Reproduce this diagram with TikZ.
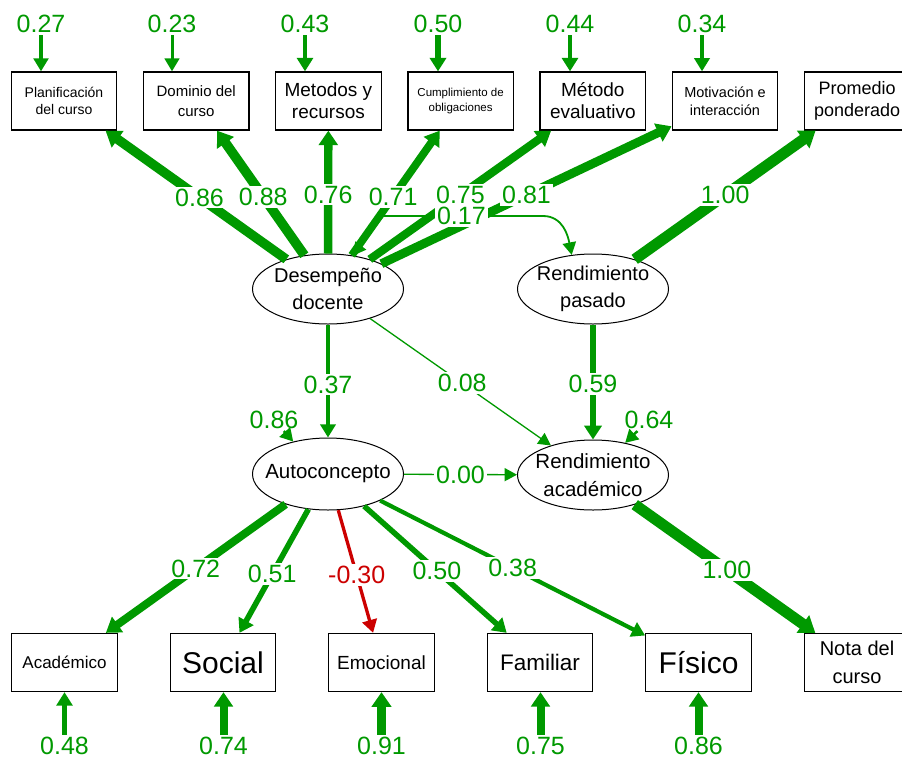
\documentclass[tikz,border=0pt]{standalone}
\usepackage{fontspec}
\setmainfont{Liberation Sans}
\usetikzlibrary{arrows.meta,positioning,shapes.geometric}
\definecolor{semgreen}{RGB}{0,153,0}
\definecolor{semred}{RGB}{204,0,0}
\tikzset{
    block/.style = {draw, rectangle, line width=1.3pt,
        minimum height=58pt,
        minimum width=105.5pt, align=center, inner sep=1pt},
    latent/.style = {draw, ellipse, line width=1pt,
        minimum height=70pt, minimum width=151pt, inner sep=0pt},
    arrow/.style = {draw=semgreen, line width=#1, ->},
    arrow/.default = 2pt,
    coef/.style = {fill=white, text=semgreen, inner sep=2pt,
        font=\fontsize{25}{25}\selectfont}
}

\begin{document}
\begin{tikzpicture}[x=1pt, y=-1pt, node distance=132.2pt,
        >={Triangle[length=12pt 0.3, width=12pt 0.8]}]
        \useasboundingbox (0,0) rectangle (902,758);
        \node [block, font=\fontsize{14}{17}\selectfont] (plan) at (64,101) {Planificación\\del curso};
        \node [block, right of=plan, font=\fontsize{15}{20}\selectfont] (dom) {Dominio del\\curso};
        \node [block, right of=dom, font=\fontsize{19}{22}\selectfont] (met) {Metodos y\\recursos};
        \node [block, right of=met, font=\fontsize{11.5}{15}\selectfont] (cum) {Cumplimiento de\\obligaciones};
        \node [block, right of=cum, font=\fontsize{19}{22}\selectfont] (eva) {Método\\evaluativo};
        \node [block, right of=eva, font=\fontsize{14.5}{18}\selectfont] (mot) {Motivación e\\interacción};
        \node [block, right of=mot, font=\fontsize{18}{22}\selectfont] (prom) {Promedio\\ponderado};

        \node [latent, label={[align=center, font=\fontsize{20}{27}\selectfont]center:Desempeño\\docente}] (des) at (328,289) {};
        \node [latent, label={[align=center, font=\fontsize{20}{27}\selectfont]center:Rendimiento\\pasado}] (pas) at (593,289) {};
        \node [latent, minimum height=72pt, label={[font=\fontsize{20.5}{27}\selectfont]center:Autoconcepto}] (autoc) at (328,474) {};
        \node [latent, label={[align=center, font=\fontsize{20.5}{28}\selectfont]center:Rendimiento\\académico}] (aca) at (593,475) {};

        \node [block, font=\fontsize{17}{21}\selectfont] (acad) at (64.5,662.5) {Académico};
        \node [block, right of=acad, node distance=158.5pt, font=\fontsize{30}{34}\selectfont] (soc) {Social};
        \node [block, right of=soc, node distance=158.5pt, font=\fontsize{19}{23}\selectfont] (emo) {Emocional};
        \node [block, right of=emo, node distance=158.5pt, font=\fontsize{22.5}{26}\selectfont] (fam) {Familiar};
        \node [block, right of=fam, node distance=158.5pt, font=\fontsize{30}{34}\selectfont] (fis) {Físico};
        \node [block, right of=fis, node distance=158.5pt, font=\fontsize{20}{28}\selectfont] (nota) {Nota del\\curso};

        \node [coef] (e1) at (41,24) {0.27};
        \node [coef] (e2) at (172,24) {0.23};
        \node [coef] (e3) at (305,24) {0.43};
        \node [coef] (e4) at (438,24) {0.50};
        \node [coef] (e5) at (570,24) {0.44};
        \node [coef] (e6) at (702,24) {0.34};
        \draw [arrow=3.3pt] (e1) -- (e1 |- plan.north);
        \draw [arrow=3pt] (e2) -- (e2 |- dom.north);
        \draw [arrow=4.7pt] (e3) -- (e3 |- met.north);
        \draw [arrow=5.2pt] (e4) -- (e4 |- cum.north);
        \draw [arrow=4.8pt] (e5) -- (e5 |- eva.north);
        \draw [arrow=3.8pt] (e6) -- (e6 |- mot.north);

        \coordinate (covL) at (383,216);
        \coordinate (covR) at (543,216);
        \draw [arrow=9.5pt] (des) -- node[coef, pos=0.48] {0.86} (plan);
        \draw [arrow=9.7pt] (des) -- node[coef, pos=0.47] {0.88} (dom);
        \draw [arrow=8.4pt] (des) -- node[coef, pos=0.48] {0.76} (met);
        \draw [arrow=7.8pt] (des) -- node[coef, pos=0.47] {0.71} (cum);
        \draw [arrow=8.2pt] (des) -- node[coef, pos=0.5] {0.75} (eva);
        \draw [arrow=8.9pt] (des) -- node[coef, pos=0.5] {0.81} (mot);
        \draw [arrow=11pt] (pas) -- node[coef, pos=0.5] {1.00} (prom);
        \draw [arrow=1.8pt, <->] (des.53) -- (covL) -- node[coef, pos=0.49] {0.17} (covR)
            .. controls (563,216) and (568,236) .. (pas.122);

        \draw [arrow=4pt] (des) -- node[coef, pos=0.53] {0.37} (autoc);
        \draw [arrow=1.3pt] (des) -- node[coef, pos=0.51] {0.08} (aca);
        \draw [arrow=6.5pt] (pas) -- node[coef, pos=0.52] {0.59} (aca);
        \draw [arrow=1.3pt] (autoc) -- node[coef, pos=0.5] {0.00} (aca);
        \node [coef] (d1) at (274,420) {0.86};
        \node [coef] (d2) at (649,420) {0.64};
        \draw [arrow=2.5pt] (d1) -- (autoc.137);
        \draw [arrow=2.5pt] (d2) -- (aca.45);

        \draw [arrow=8pt] (autoc) -- node[coef, pos=0.5] {0.72} (acad);
        \draw [arrow=5.6pt] (autoc) -- node[coef, pos=0.525] {0.51} (soc);
        \draw [arrow=3.3pt, draw=semred] (autoc) -- node[coef, text=semred, pos=0.53] {-0.30} (emo);
        \draw [arrow=5.5pt] (autoc) -- node[coef, pos=0.51] {0.50} (fam);
        \draw [arrow=4.2pt] (autoc) -- node[coef, pos=0.5] {0.38} (fis);
        \draw [arrow=11pt] (aca) -- node[coef, pos=0.51] {1.00} (nota);

        \node [coef] (u1) at (64.5,746) {0.48};
        \node [coef] (u2) at (223.5,746) {0.74};
        \node [coef] (u3) at (381.5,746) {0.91};
        \node [coef] (u4) at (540.5,746) {0.75};
        \node [coef] (u5) at (698.5,746) {0.86};
        \draw [arrow=4.5pt] (u1) -- (u1 |- acad.south);
        \draw [arrow=8pt] (u2) -- (u2 |- soc.south);
        \draw [arrow=9pt] (u3) -- (u3 |- emo.south);
        \draw [arrow=8pt] (u4) -- (u4 |- fam.south);
        \draw [arrow=8pt] (u5) -- (u5 |- fis.south);
\end{tikzpicture}
\end{document}
